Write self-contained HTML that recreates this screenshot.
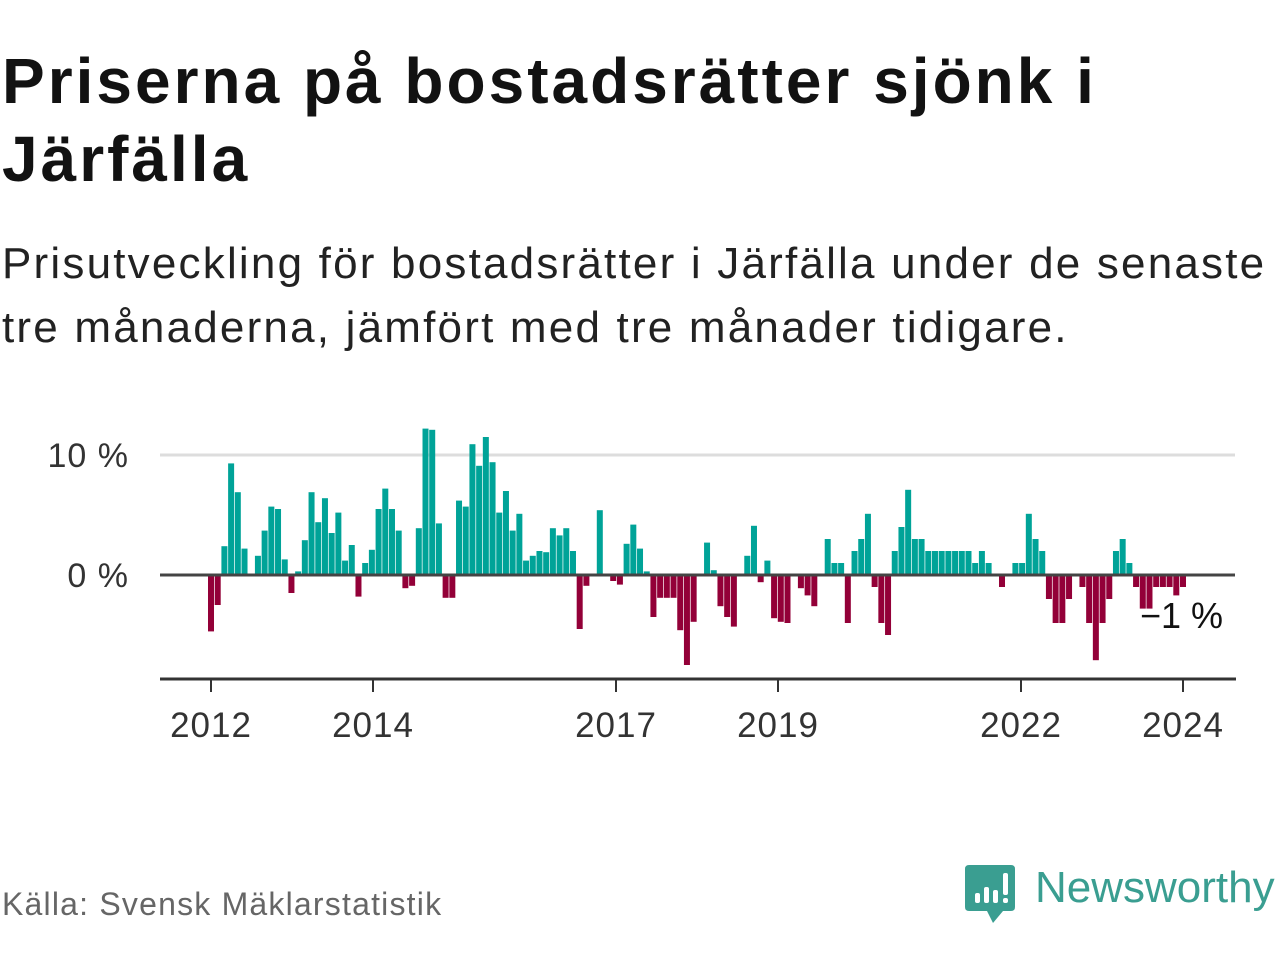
<!DOCTYPE html>
<html><head><meta charset="utf-8">
<style>
body{margin:0;width:1280px;height:960px;background:#fff;font-family:"Liberation Sans","DejaVu Sans",sans-serif;overflow:hidden;position:relative}
.t{position:absolute;left:2px;margin:0;color:#111;white-space:nowrap}
</style></head><body>
<h1 class="t" style="top:42px;font-size:64px;line-height:78px;font-weight:bold;color:#121212;letter-spacing:3px">Priserna på bostadsrätter sjönk i<br>Järfälla</h1>
<p class="t" style="top:232px;font-size:44px;line-height:64px;color:#222;letter-spacing:2.2px">Prisutveckling för bostadsrätter i Järfälla under de senaste<br>tre månaderna, jämfört med tre månader tidigare.</p>
<svg id="chart" width="1280" height="960" style="position:absolute;left:0;top:0;pointer-events:none" xmlns="http://www.w3.org/2000/svg"></svg>
<div style="position:absolute;left:2px;top:886px;font-size:32px;color:#666;letter-spacing:1.2px">Källa: Svensk Mäklarstatistik</div>
<div style="position:absolute;left:965px;top:865px;width:315px;height:60px">
<svg width="52" height="60" style="position:absolute;left:0;top:0"><path d="M4 0H46Q50 0 50 4V42Q50 46 46 46H38L28 58L22 46H4Q0 46 0 42V4Q0 0 4 0Z" fill="#3a9e91"/><rect x="10" y="28" width="5" height="10" rx="2" fill="#fff"/><rect x="19" y="22" width="5" height="16" rx="2" fill="#fff"/><rect x="28" y="25" width="5" height="13" rx="2" fill="#fff"/><rect x="38" y="8" width="5" height="22" rx="2" fill="#fff"/><rect x="38" y="33" width="5" height="5" rx="2" fill="#fff"/></svg>
<div style="position:absolute;left:70px;top:-2px;font-size:44px;color:#3a9e91;font-weight:500">Newsworthy</div>
</div>
<script>
const values=[-4.7,-2.5,2.4,9.3,6.9,2.2,0,1.6,3.7,5.7,5.5,1.3,-1.5,0.3,2.9,6.9,4.4,6.4,3.5,5.2,1.2,2.5,-1.8,1.0,2.1,5.5,7.2,5.5,3.7,-1.1,-0.9,3.9,12.2,12.1,4.3,-1.9,-1.9,6.2,5.7,10.9,9.1,11.5,9.4,5.2,7.0,3.7,5.1,1.2,1.6,2.0,1.9,3.9,3.3,3.9,2.0,-4.5,-0.9,0,5.4,0,-0.5,-0.8,2.6,4.2,2.2,0.3,-3.5,-1.9,-1.9,-1.9,-4.6,-7.5,-3.9,0,2.7,0.4,-2.6,-3.5,-4.3,0,1.6,4.1,-0.6,1.2,-3.6,-3.9,-4.0,0,-1.1,-1.7,-2.6,0,3.0,1.0,1.0,-4.0,2.0,3.0,5.1,-1.0,-4.0,-5.0,2.0,4.0,7.1,3.0,3.0,2.0,2.0,2.0,2.0,2.0,2.0,2.0,1.0,2.0,1.0,0,-1.0,0,1.0,1.0,5.1,3.0,2.0,-2.0,-4.0,-4.0,-2.0,0,-1.0,-4.0,-7.1,-4.0,-2.0,2.0,3.0,1.0,-1.0,-2.8,-2.8,-1.0,-1.0,-1.0,-1.7,-1.0];
const yTickValues=[0,10];
const yTickLabels=["0 %","10 %"];
const xTickYears=[2012,2014,2017,2019,2022,2024];
const lastLabel="−1 %";
const NS="http://www.w3.org/2000/svg";
const svg=document.getElementById('chart');
const step=(1183-211)/(values.length-1);
function xBar(i){return 211+i*step;}
function xYear(y){return 211+(y-2012)*81;}
function yv(v){return 575-v*12;}
function mk(tag,attrs){const e=document.createElementNS(NS,tag);for(const k in attrs)e.setAttribute(k,attrs[k]);svg.appendChild(e);return e;}
yTickValues.forEach((v,i)=>{
  if(v!==0){const g=mk('line',{x1:160,x2:1235,y1:yv(v),y2:yv(v),stroke:'#ddd','stroke-width':3});
  
  }
  const t=mk('text',{x:129,y:yv(v)+12,'text-anchor':'end','font-size':34,fill:'#333','font-family':'Liberation Sans, sans-serif','letter-spacing':1});
  t.textContent=yTickLabels[i];
  
  
});
values.forEach((v,i)=>{
  if(v===0)return;
  const y0=yv(0),y1=yv(v);
  const r=mk('rect',{x:xBar(i)-3,y:Math.min(y0,y1),width:6,height:Math.abs(y1-y0),fill:v>0?'#00a398':'#930038'});
  
  
});
const z=mk('line',{x1:160,x2:1235,y1:575,y2:575,stroke:'#444','stroke-width':3});


const ax=mk('line',{x1:160,x2:1236,y1:679,y2:679,stroke:'#333','stroke-width':3});


xTickYears.forEach(yr=>{
  const x=xYear(yr);
  const tk=mk('line',{x1:x,x2:x,y1:679,y2:692,stroke:'#333','stroke-width':2});
  
  
  const t=mk('text',{x:x,y:737,'text-anchor':'middle','font-size':35,fill:'#333','font-family':'Liberation Sans, sans-serif','letter-spacing':1});
  t.textContent=yr;
  
  
});
const lt=mk('text',{x:1223,y:628,'text-anchor':'end','font-size':36,fill:'#111','font-family':'Liberation Sans, sans-serif'});
lt.textContent=lastLabel;


</script>
</body></html>
